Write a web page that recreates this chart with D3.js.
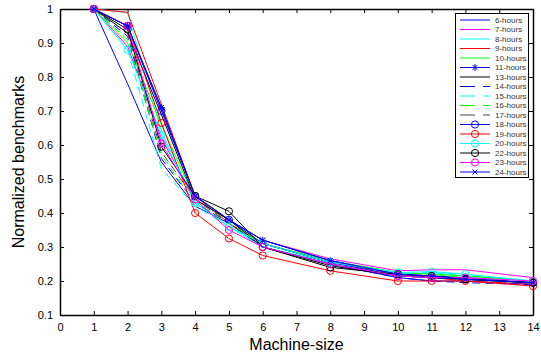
<!DOCTYPE html>
<html>
<head>
<meta charset="utf-8">
<script src="https://cdn.jsdelivr.net/npm/d3@7"></script>
<style>
  body { margin: 0; background: #fff; }
  text { font-family: "Liberation Sans", Arial, sans-serif; }
</style>
</head>
<body>
<svg id="chart" width="541" height="358"></svg>
<script>
const machineSizes = [1, 2, 3, 4, 5, 6, 8, 10, 11, 12, 14];
const xTicks = d3.range(0, 15);
const yTicks = [0.1, 0.2, 0.3, 0.4, 0.5, 0.6, 0.7, 0.8, 0.9, 1];

const seriesNames = ["6-hours", "7-hours", "8-hours", "9-hours", "10-hours", "11-hours",
  "13-hours", "14-hours", "15-hours", "16-hours", "17-hours", "18-hours", "19-hours",
  "20-hours", "22-hours", "23-hours", "24-hours"];

const hours6  = [1, 0.78, 0.55, 0.42, 0.37, 0.30, 0.25, 0.21, 0.20, 0.20, 0.19];
const hours7  = [1, 0.89, 0.62, 0.44, 0.38, 0.32, 0.265, 0.23, 0.233, 0.233, 0.21];
const hours8  = [1, 0.99, 0.64, 0.43, 0.36, 0.30, 0.255, 0.22, 0.225, 0.215, 0.20];
const hours9  = [1, 0.99, 0.72, 0.45, 0.37, 0.31, 0.255, 0.22, 0.21, 0.20, 0.19];
const hours10 = [1, 0.90, 0.66, 0.44, 0.38, 0.31, 0.26, 0.225, 0.22, 0.215, 0.20];
const hours11 = [1, 0.95, 0.71, 0.45, 0.38, 0.32, 0.26, 0.22, 0.215, 0.21, 0.195];
const hours13 = [1, 0.93, 0.69, 0.44, 0.38, 0.30, 0.245, 0.215, 0.21, 0.205, 0.195];
const hours14 = [1, 0.92, 0.56, 0.43, 0.37, 0.30, 0.25, 0.21, 0.20, 0.195, 0.19];
const hours15 = [1, 0.88, 0.53, 0.42, 0.36, 0.30, 0.25, 0.22, 0.225, 0.22, 0.20];
const hours16 = [1, 0.91, 0.57, 0.43, 0.37, 0.31, 0.255, 0.225, 0.22, 0.21, 0.20];
const hours17 = [1, 0.93, 0.58, 0.44, 0.37, 0.30, 0.25, 0.215, 0.21, 0.205, 0.195];
const hours18 = [1, 0.95, 0.70, 0.45, 0.38, 0.31, 0.255, 0.215, 0.21, 0.205, 0.195];
const hours19 = [1, 0.95, 0.665, 0.40, 0.325, 0.275, 0.23, 0.20, 0.20, 0.20, 0.185];
const hours20 = [1, 0.88, 0.63, 0.43, 0.36, 0.31, 0.255, 0.225, 0.228, 0.22, 0.20];
const hours22 = [1, 0.94, 0.595, 0.45, 0.405, 0.30, 0.24, 0.22, 0.215, 0.205, 0.195];
const hours23 = [1, 0.95, 0.605, 0.44, 0.35, 0.30, 0.25, 0.215, 0.21, 0.21, 0.20];
const hours24 = [1, 0.95, 0.71, 0.45, 0.38, 0.32, 0.26, 0.22, 0.215, 0.205, 0.195];

const seriesValues = [hours6, hours7, hours8, hours9, hours10, hours11, hours13, hours14,
  hours15, hours16, hours17, hours18, hours19, hours20, hours22, hours23, hours24];

// style per series: colour, dashed, marker
const styles = [
  { color: "#0000ff" }, { color: "#ff00ff" }, { color: "#00ffff" }, { color: "#ff0000" },
  { color: "#00ff00" }, { color: "#0000ff", marker: "star" }, { color: "#000000" },
  { color: "#0000ff", dash: true }, { color: "#00ffff", dash: true },
  { color: "#00ff00", dash: true }, { color: "#444444", dash: true },
  { color: "#0000ff", marker: "circle" }, { color: "#ff0000", marker: "circle" },
  { color: "#00ffff", marker: "circle" }, { color: "#000000", marker: "circle" },
  { color: "#ff00ff", marker: "circle" }, { color: "#0000ff", marker: "cross" },
];

const plotLeft = 60, plotRight = 533, plotTop = 9, plotBottom = 315;

const svg = d3.select("#chart");
const x = d3.scaleLinear().domain([0, 14]).range([plotLeft, plotRight]);
const y = d3.scaleLinear().domain([0.1, 1]).range([plotBottom, plotTop]);

// axes (ticks inward, box around)
svg.append("g")
  .attr("transform", `translate(0,${plotBottom})`)
  .call(d3.axisBottom(x).tickValues(xTicks).tickSizeInner(-4).tickSizeOuter(0).tickPadding(8))
  .call(g => g.selectAll("text").attr("font-size", 11).attr("fill", "#000"));
svg.append("g")
  .attr("transform", `translate(0,${plotTop})`)
  .call(d3.axisTop(x).tickValues(xTicks).tickSizeInner(-4).tickSizeOuter(0).tickFormat(""));
svg.append("g")
  .attr("transform", `translate(${plotLeft},0)`)
  .call(d3.axisLeft(y).tickValues(yTicks).tickSizeInner(-4).tickSizeOuter(0).tickPadding(7)
    .tickFormat(d => d === 1 ? "1" : d3.format(".1f")(d)))
  .call(g => g.selectAll("text").attr("font-size", 11).attr("fill", "#000"));
svg.append("g")
  .attr("transform", `translate(${plotRight},0)`)
  .call(d3.axisRight(y).tickValues(yTicks).tickSizeInner(-4).tickSizeOuter(0).tickFormat(""));
svg.selectAll(".domain").attr("stroke", "#000").attr("stroke-width", 1.5);
svg.selectAll(".tick line").attr("stroke", "#000");

// lines
const line = d3.line().x(d => x(d[0])).y(d => y(d[1]));

function drawMarker(g, kind, color, cx, cy) {
  if (kind === "circle") {
    g.append("circle").attr("cx", cx).attr("cy", cy).attr("r", 3.6)
      .attr("fill", "none").attr("stroke", color).attr("stroke-width", 1);
  } else if (kind === "star") {
    const s = 3.5;
    g.append("path")
      .attr("d", `M${cx - s},${cy}H${cx + s}M${cx},${cy - s}V${cy + s}` +
        `M${cx - s * 0.7},${cy - s * 0.7}L${cx + s * 0.7},${cy + s * 0.7}` +
        `M${cx - s * 0.7},${cy + s * 0.7}L${cx + s * 0.7},${cy - s * 0.7}`)
      .attr("stroke", color).attr("stroke-width", 1);
  } else if (kind === "cross") {
    const s = 2.5;
    g.append("path")
      .attr("d", `M${cx - s},${cy - s}L${cx + s},${cy + s}M${cx - s},${cy + s}L${cx + s},${cy - s}`)
      .attr("stroke", color).attr("stroke-width", 1);
  }
}

const plot = svg.append("g");
seriesValues.forEach((vals, i) => {
  const st = styles[i];
  const pts = machineSizes.map((m, j) => [m, vals[j]]);
  plot.append("path")
    .attr("d", line(pts))
    .attr("fill", "none")
    .attr("stroke", st.color)
    .attr("stroke-width", 1)
    .attr("stroke-dasharray", st.dash ? "8,5" : null);
  if (st.marker) pts.forEach(p => drawMarker(plot, st.marker, st.color, x(p[0]), y(p[1])));
});

// legend
const lg = svg.append("g");
lg.append("rect").attr("x", 455.5).attr("y", 13.5).attr("width", 73).attr("height", 164)
  .attr("fill", "#fff").attr("stroke", "#000").attr("stroke-width", 1);
seriesNames.forEach((name, i) => {
  const st = styles[i];
  const ly = 20 + i * 9.5;
  lg.append("line").attr("x1", 460).attr("x2", 490).attr("y1", ly).attr("y2", ly)
    .attr("stroke", st.color).attr("stroke-width", 1)
    .attr("stroke-dasharray", st.dash ? "15,8" : null);
  if (st.marker) drawMarker(lg, st.marker, st.color, 475, ly);
  lg.append("text").attr("x", 495).attr("y", ly).attr("dy", "0.35em")
    .attr("font-size", 8).attr("fill", "#333").text(name);
});

// axis titles
svg.append("text").attr("x", (plotLeft + plotRight) / 2).attr("y", 350)
  .attr("text-anchor", "middle").attr("font-size", 16).text("Machine-size");
svg.append("text").attr("transform", `translate(24,${(plotTop + plotBottom) / 2}) rotate(-90)`)
  .attr("text-anchor", "middle").attr("font-size", 16).text("Normalized benchmarks");
</script>
</body>
</html>
